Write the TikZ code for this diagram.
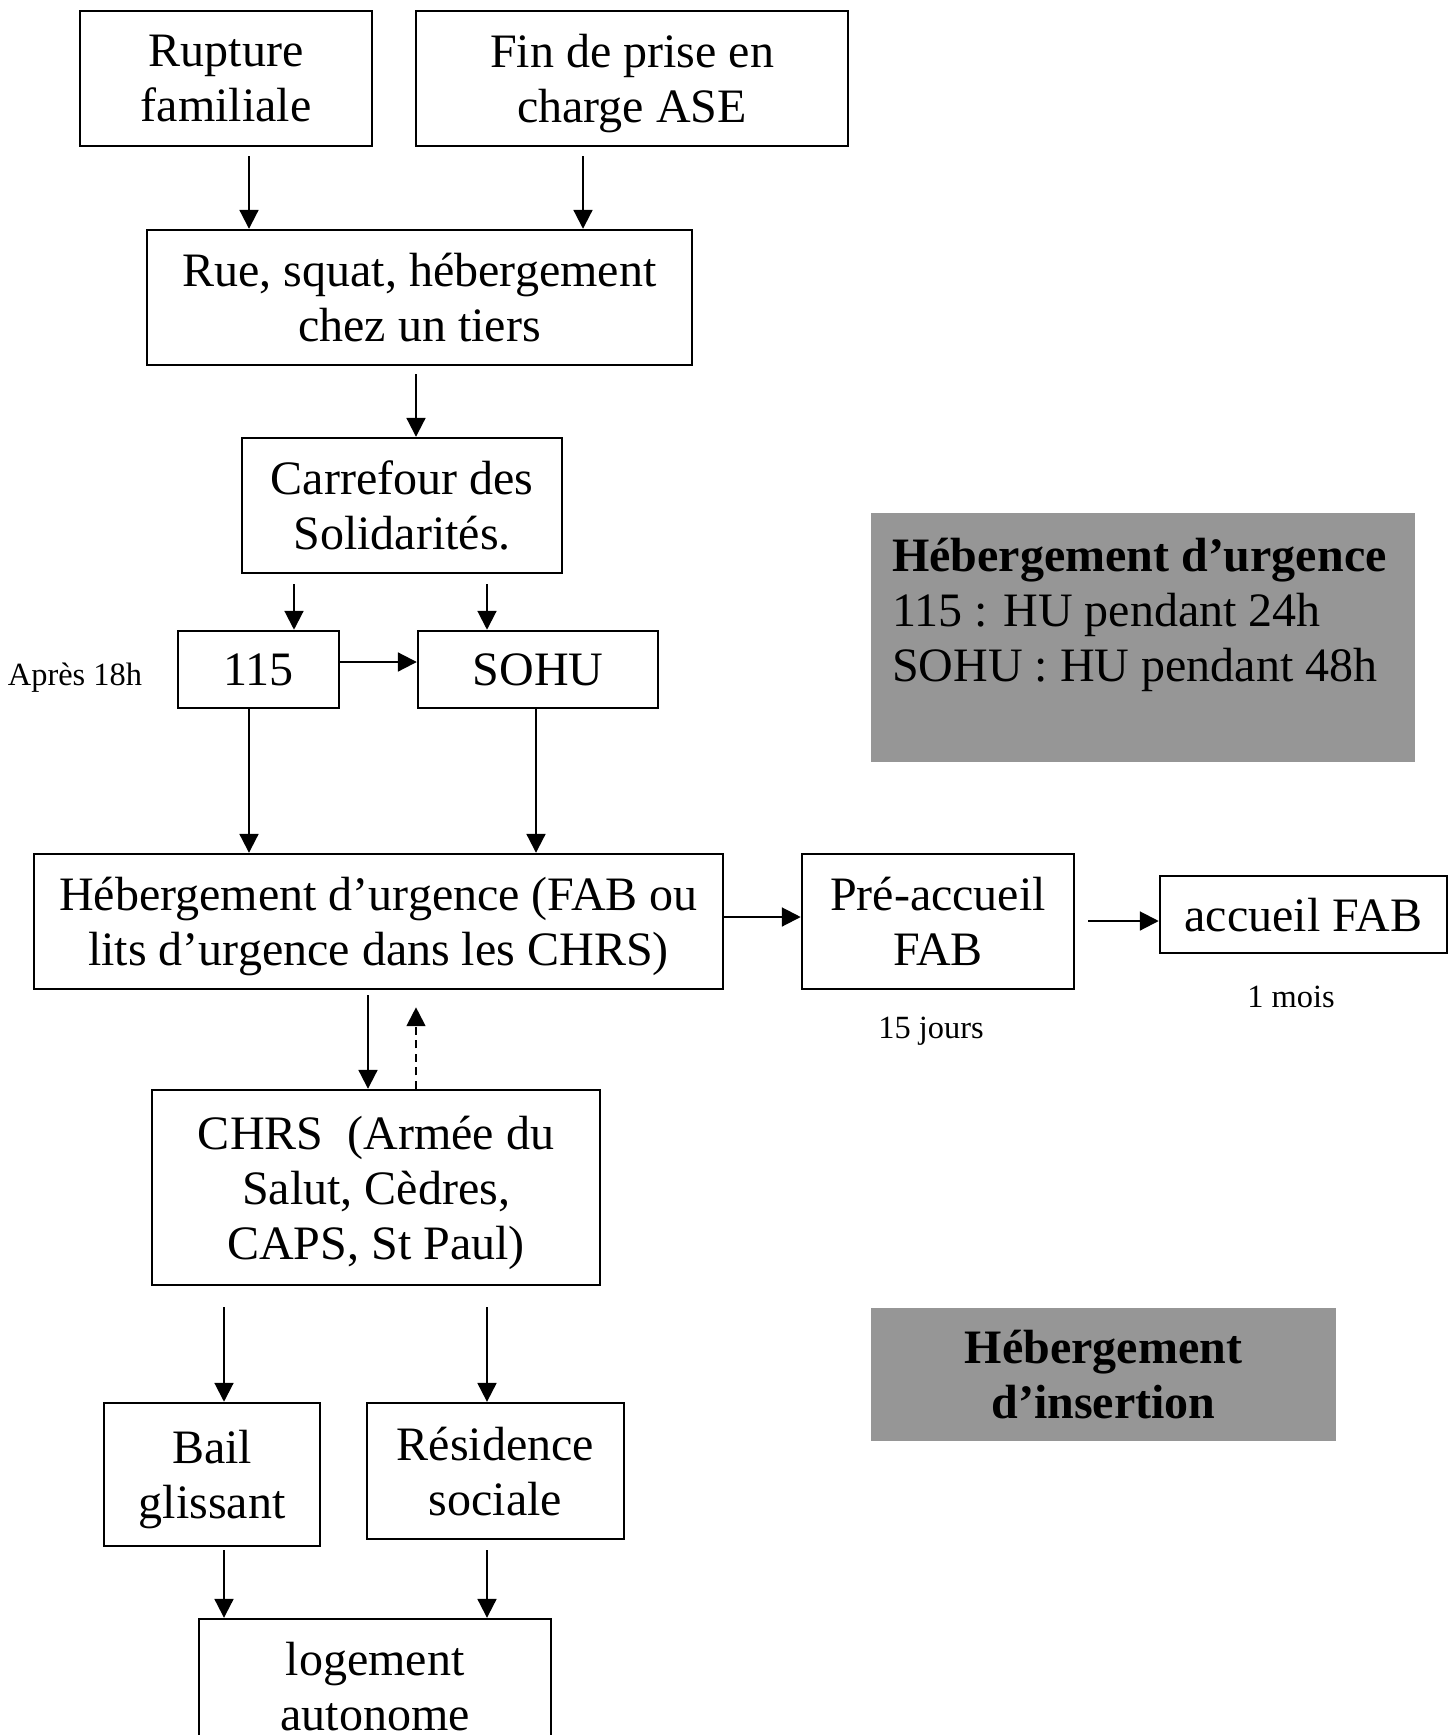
\documentclass[tikz,border=0pt]{standalone}
\usepackage{fontspec}
\setmainfont{Liberation Serif}
\usetikzlibrary{arrows.meta}
\definecolor{grisfond}{RGB}{150,150,150}
\tikzset{
  boite/.style={draw, line width=0.8pt, align=center, inner sep=0pt, text depth=0pt, font=\fontsize{16}{18.3}\selectfont},
  cadregris/.style={fill=grisfond, inner sep=0pt, font=\fontsize{16}{18.3}\selectfont},
  petit/.style={inner sep=0pt, font=\fontsize{10.8}{13}\selectfont},
  fleche/.style={-{Triangle[length=6.3pt,width=6.3pt]}, line width=0.7pt},
}
\begin{document}
\begin{tikzpicture}[x=0.3333pt, y=-0.3333pt]
\useasboundingbox (0,0) rectangle (1454,1735);

% Boîtes du parcours
\node[boite, minimum width=97.3pt, minimum height=45pt] (rupture) at (226,78.5) {Rupture\\familiale};
\node[boite, minimum width=144pt, minimum height=45pt] (fin) at (632,78.5) {Fin de prise en\\charge ASE};
\node[boite, minimum width=181.7pt, minimum height=45pt] (rue) at (419.5,297.5) {Rue, squat, hébergement\\chez un tiers};
\node[boite, minimum width=106.7pt, minimum height=45pt] (carrefour) at (402,505.5) {Carrefour des\\Solidarités.};
\node[boite, minimum width=53.7pt, minimum height=25.7pt] (num115) at (258.5,669.5) {115};
\node[boite, minimum width=80pt, minimum height=25.7pt] (sohu) at (538,669.5) {SOHU};
\node[boite, minimum width=229.7pt, minimum height=45pt] (urgence) at (378.5,921.5) {Hébergement d’urgence (FAB ou\\lits d’urgence dans les CHRS)};
\node[boite, minimum width=90.7pt, minimum height=45pt] (preaccueil) at (938,921.5) {Pré-accueil\\FAB};
\node[boite, minimum width=95.7pt, minimum height=25.7pt] (accueil) at (1303.5,914.5) {accueil FAB};
\node[boite, minimum width=149.3pt, minimum height=65pt] (chrs) at (376,1187.5) {CHRS\ \ (Armée du\\Salut, Cèdres,\\CAPS, St Paul)};
\node[boite, minimum width=72pt, minimum height=47.7pt] (bail) at (212,1474.5) {Bail\\glissant};
\node[boite, minimum width=85.7pt, minimum height=45.3pt] (residence) at (495.5,1471) {Résidence\\sociale};
\node[boite, minimum width=117.3pt, minimum height=45pt] (logement) at (375,1686.5) {logement\\autonome};

% Cadres gris
\node[cadregris, minimum width=181.3pt, minimum height=83pt, text width=167.3pt, inner xsep=7pt, align=flush left] (cadreurgence) at (1143,637.5)
  {\textbf{Hébergement d’urgence}\\115 : HU pendant 24h\\SOHU : HU pendant 48h\\\mbox{}};
\node[cadregris, minimum width=155pt, minimum height=44.3pt, align=center] (cadreinsertion) at (1103.5,1374.5)
  {\textbf{Hébergement}\\\textbf{d’insertion}};

% Annotations
\node[petit] (apres) at (75,678) {Après 18h};
\node[petit] (quinze) at (931,1031) {15 jours};
\node[petit] (mois) at (1291,997) {1 mois};

% Flèches
\draw[fleche, shorten <=3pt] (rupture.south -| 249,0) -- (rue.north -| 249,0);
\draw[fleche, shorten <=3pt] (fin.south -| 583,0) -- (rue.north -| 583,0);
\draw[fleche, shorten <=2.7pt] (rue.south -| 416,0) -- (carrefour.north -| 416,0);
\draw[fleche, shorten <=3.3pt] (carrefour.south -| 294,0) -- (num115.north -| 294,0);
\draw[fleche, shorten <=3.3pt] (carrefour.south -| 487,0) -- (sohu.north -| 487,0);
\draw[fleche] (num115.east |- 0,662) -- (sohu.west |- 0,662);
\draw[fleche] (num115.south -| 249,0) -- (urgence.north -| 249,0);
\draw[fleche] (sohu.south -| 536,0) -- (urgence.north -| 536,0);
\draw[fleche] (urgence.east |- 0,917) -- (preaccueil.west |- 0,917);
\draw[fleche, shorten <=4.3pt] (preaccueil.east |- 0,921) -- (accueil.west |- 0,921);
\draw[fleche, shorten <=1.7pt] (urgence.south -| 368,0) -- (chrs.north -| 368,0);
\draw[fleche, dash pattern=on 2.7pt off 1.8pt, shorten >=5.7pt] (chrs.north -| 416,0) -- (urgence.south -| 416,0);
\draw[fleche, shorten <=7pt] (chrs.south -| 224,0) -- (bail.north -| 224,0);
\draw[fleche, shorten <=7pt] (chrs.south -| 487,0) -- (residence.north -| 487,0);
\draw[fleche, shorten <=1pt] (bail.south -| 224,0) -- (logement.north -| 224,0);
\draw[fleche, shorten <=3.3pt] (residence.south -| 487,0) -- (logement.north -| 487,0);
\end{tikzpicture}
\end{document}
